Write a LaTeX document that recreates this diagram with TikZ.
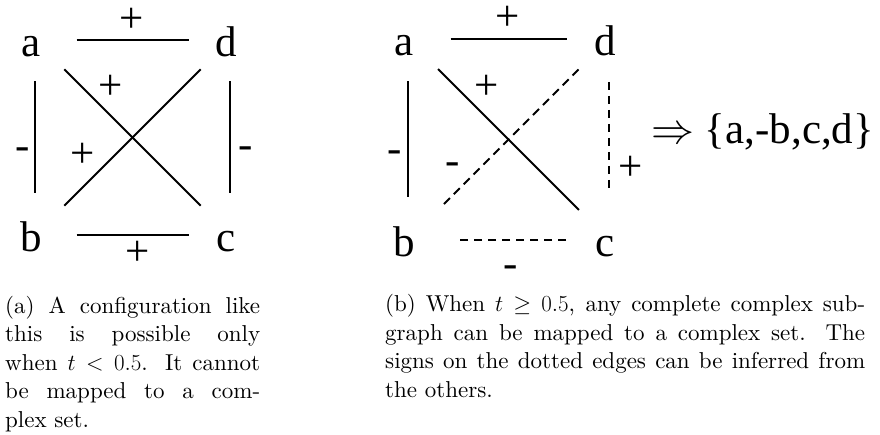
\RequirePackage{fix-cm}
\documentclass[tikz,border=0pt]{standalone}
\usepackage{amsmath,amssymb}
\usepackage{fontspec}
\setmainfont{lmroman10-regular}[Extension=.otf, BoldFont=lmroman10-bold, ItalicFont=lmroman10-italic]
\newfontfamily\graphfont{Liberation Serif}
\usepackage{tikz}
\usetikzlibrary{positioning}

\tikzset{
  vtx/.style={font=\graphfont\fontsize{43}{50}\selectfont, anchor=base, inner sep=0pt, xshift=-4pt, yshift=-17pt},
  sgn/.style={font=\graphfont\fontsize{43}{50}\selectfont, anchor=base, inner sep=0pt},
  link/.style={line width=1.8pt},
  dotlink/.style={line width=1.8pt, dash pattern=on 8.5pt off 5.5pt, shorten <=43pt, shorten >=49pt},
  capt/.style={font=\fontsize{23}{28.5}\selectfont, anchor=base west, inner sep=0pt, align=justify}
}

\begin{document}
\begin{tikzpicture}[x=1pt, y=-1pt]
\useasboundingbox (0,0) rectangle (880,435);

% (a) corners and vertices
\coordinate (A1) at (35,40);
\coordinate (D1) at (230,40);
\coordinate (B1) at (35,235);
\coordinate (C1) at (230,235);
\node[vtx] (a1) at (A1) {a};
\node[vtx] (d1) at (D1) {d};
\node[vtx] (b1) at (B1) {b};
\node[vtx] (c1) at (C1) {c};

\draw[link, shorten <=41.5pt, shorten >=41.5pt] (A1) -- (D1);
\draw[link, shorten <=41.5pt, shorten >=41.5pt] (A1) -- (B1);
\draw[link, shorten <=41.5pt, shorten >=41.5pt] (D1) -- (C1);
\draw[link, shorten <=41.5pt, shorten >=41.5pt] (B1) -- (C1);
\draw[link, shorten <=41.5pt, shorten >=41.5pt] (A1) -- (C1);
\draw[link, shorten <=41.5pt, shorten >=41.5pt] (B1) -- (D1);

\node[sgn] (ad1) at (132,32.5) {+};
\node[sgn] (ab1) at (23,160) {-};
\node[sgn] (dc1) at (246,158.5) {-};
\node[sgn] (bc1) at (138,265.5) {+};
\node[sgn] (ac1) at (111,99.5) {+};
\node[sgn] (bd1) at (83,167.5) {+};

% (b) corners and vertices
\coordinate (A2) at (408,39);
\coordinate (D2) at (609,39);
\coordinate (B2) at (408,240);
\coordinate (C2) at (609,240);
\node[vtx] (a2) at (A2) {a};
\node[vtx] (d2) at (D2) {d};
\node[vtx] (b2) at (B2) {b};
\node[vtx] (c2) at (C2) {c};

\draw[link, shorten <=42.5pt, shorten >=42.5pt] (A2) -- (D2);
\draw[link, shorten <=42.5pt, shorten >=42.5pt] (A2) -- (B2);
\draw[link, shorten <=42.5pt, shorten >=42.5pt] (A2) -- (C2);
\draw[dotlink] (D2) -- (C2);
\draw[dotlink] (C2) -- (B2);
\draw[dotlink] (D2) -- (B2);

\node[sgn] (ad2) at (508,31) {+};
\node[sgn] (ab2) at (395,162.5) {-};
\node[sgn] (ac2) at (487,99.5) {+};
\node[sgn] (bd2) at (453,174.5) {-};
\node[sgn] (dc2) at (631,180.5) {+};
\node[sgn] (bc2) at (511,277.5) {-};

\node[sgn, anchor=base west] (res) at (651,143.5) {$\Rightarrow$ \{a,-b,c,d\}};

% captions
\node[capt, text width=255pt] (capa) at (5,313) {(a) A configuration like\linebreak
  this is possible only\linebreak
  when $t<0.5$. It cannot\linebreak
  be mapped to a com-\linebreak
  plex set.};
\node[capt, text width=480pt] (capb) at (385,312) {(b) When $t\geq 0.5$, any complete complex sub-\linebreak
  graph can be mapped to a complex set. The\linebreak
  signs on the dotted edges can be inferred from\linebreak
  the others.};
\end{tikzpicture}
\end{document}
